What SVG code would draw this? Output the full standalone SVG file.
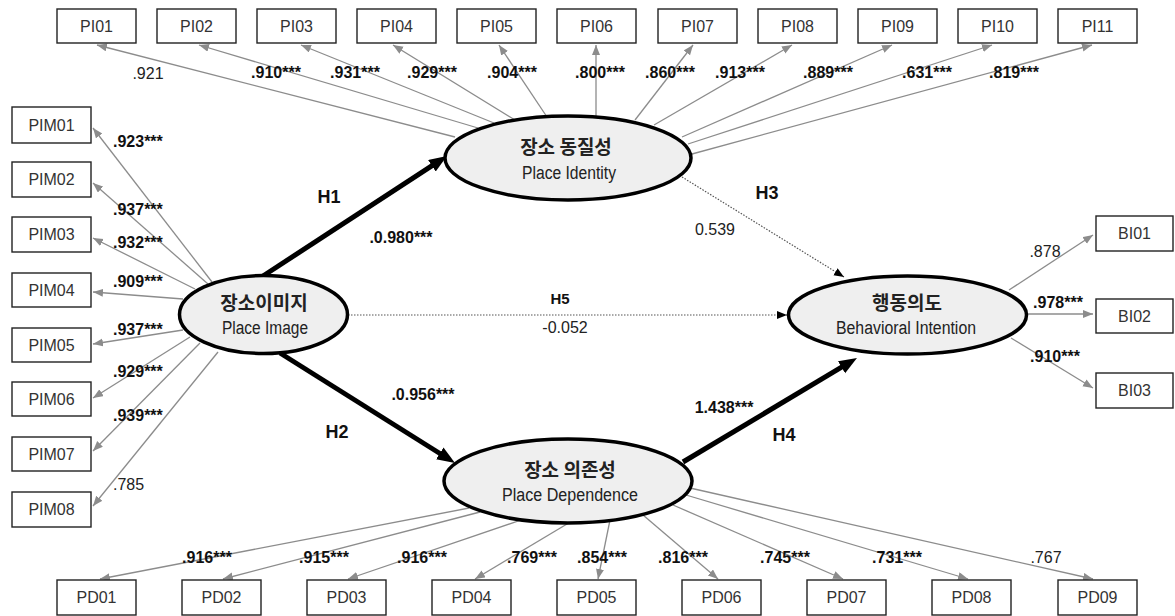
<svg xmlns="http://www.w3.org/2000/svg" width="1175" height="616" viewBox="0 0 1175 616">
<defs>
<style>
.box{fill:#fff;stroke:#222;stroke-width:1.4}
.bt{font-family:"Liberation Sans",Arial,sans-serif;font-size:16px;fill:#333;text-anchor:middle}
.lv{fill:#efefef;stroke:#000;stroke-width:3.5}
.ko{font-family:"Noto Sans CJK KR","Noto Sans",sans-serif;font-size:19px;font-weight:bold;fill:#222;text-anchor:middle}
.en{font-family:"Liberation Sans",Arial,sans-serif;font-size:18px;fill:#222;text-anchor:middle}
.g{stroke:#8c8c8c;stroke-width:1.3;fill:none;marker-end:url(#ga)}
.thick{stroke:#000;stroke-width:5;fill:none;marker-end:url(#ba)}
.dot{stroke:#555;stroke-width:1.2;stroke-dasharray:1.5 1.5;fill:none;marker-end:url(#da)}
.l{font-family:"Liberation Sans",Arial,sans-serif;font-size:16px;fill:#222}
.b{font-weight:bold;fill:#111}
.c{text-anchor:middle}
.h{font-family:"Liberation Sans",Arial,sans-serif;font-size:18px;font-weight:bold;fill:#111;text-anchor:middle}
</style>
<marker id="ga" markerUnits="userSpaceOnUse" markerWidth="11" markerHeight="9" refX="10" refY="4" orient="auto"><path d="M0,0 L10,4 L0,8 z" fill="#8c8c8c"/></marker>
<marker id="ba" markerUnits="userSpaceOnUse" markerWidth="19" markerHeight="15" refX="3" refY="7" orient="auto"><path d="M0,0 L18,7 L0,14 z" fill="#000"/></marker>
<marker id="da" markerUnits="userSpaceOnUse" markerWidth="11" markerHeight="9" refX="10" refY="4" orient="auto"><path d="M0,0 L10,4 L0,8 z" fill="#000"/></marker>
</defs>
<rect width="1175" height="616" fill="#fff"/>

<g id="connectors">
<line class="g" x1="455" y1="137" x2="97" y2="45"/>
<line class="g" x1="478" y1="128" x2="199" y2="45"/>
<line class="g" x1="494" y1="123" x2="301" y2="45"/>
<line class="g" x1="515" y1="120" x2="393" y2="45"/>
<line class="g" x1="547" y1="117" x2="499" y2="45"/>
<line class="g" x1="596" y1="116" x2="596" y2="45"/>
<line class="g" x1="635" y1="120" x2="693" y2="45"/>
<line class="g" x1="654" y1="125" x2="792" y2="45"/>
<line class="g" x1="682" y1="137" x2="892" y2="45"/>
<line class="g" x1="688" y1="144" x2="992" y2="45"/>
<line class="g" x1="692" y1="154" x2="1092" y2="45"/>

<line class="g" x1="212" y1="282" x2="93" y2="128"/>
<line class="g" x1="208" y1="284" x2="93" y2="183"/>
<line class="g" x1="195" y1="289" x2="93" y2="238"/>
<line class="g" x1="183" y1="299" x2="93" y2="292"/>
<line class="g" x1="183" y1="330" x2="93" y2="344"/>
<line class="g" x1="190" y1="337" x2="93" y2="398"/>
<line class="g" x1="200" y1="343" x2="93" y2="451"/>
<line class="g" x1="218" y1="352" x2="93" y2="506"/>

<line class="g" x1="469" y1="508" x2="100" y2="579"/>
<line class="g" x1="480" y1="512" x2="223" y2="579"/>
<line class="g" x1="524" y1="519" x2="348" y2="579"/>
<line class="g" x1="572" y1="521" x2="475" y2="579"/>
<line class="g" x1="610" y1="520" x2="598" y2="579"/>
<line class="g" x1="643" y1="515" x2="718" y2="579"/>
<line class="g" x1="673" y1="505" x2="843" y2="579"/>
<line class="g" x1="686" y1="495" x2="968" y2="579"/>
<line class="g" x1="690" y1="488" x2="1093" y2="579"/>

<line class="g" x1="1009" y1="290" x2="1093" y2="235"/>
<line class="g" x1="1025" y1="314" x2="1093" y2="314"/>
<line class="g" x1="1011" y1="338" x2="1093" y2="388"/>

<line class="thick" x1="263" y1="276" x2="434.4" y2="164.1"/>
<line class="thick" x1="280" y1="353" x2="442.3" y2="455"/>
<line class="thick" x1="683" y1="462" x2="844.1" y2="365.7"/>
<line class="dot" x1="682" y1="177" x2="844" y2="277"/>
<line class="dot" x1="348" y1="315" x2="787" y2="315"/>
</g>

<g id="labels">
<text class="l" x="148" y="79" text-anchor="middle">.921</text>
<text class="l b c" x="276" y="78">.910***</text>
<text class="l b c" x="355" y="78">.931***</text>
<text class="l b c" x="432" y="78">.929***</text>
<text class="l b c" x="512" y="78">.904***</text>
<text class="l b c" x="600" y="78">.800***</text>
<text class="l b c" x="670" y="78">.860***</text>
<text class="l b c" x="740" y="78">.913***</text>
<text class="l b c" x="828" y="78">.889***</text>
<text class="l b c" x="927" y="78">.631***</text>
<text class="l b c" x="1014" y="78">.819***</text>

<text class="l b" x="113" y="147">.923***</text>
<text class="l b" x="113" y="215">.937***</text>
<text class="l b" x="113" y="248">.932***</text>
<text class="l b" x="113" y="287">.909***</text>
<text class="l b" x="113" y="335">.937***</text>
<text class="l b" x="113" y="377">.929***</text>
<text class="l b" x="113" y="421">.939***</text>
<text class="l" x="113" y="490">.785</text>

<text class="l b c" x="207" y="563">.916***</text>
<text class="l b c" x="324" y="563">.915***</text>
<text class="l b c" x="422" y="563">.916***</text>
<text class="l b c" x="532" y="563">.769***</text>
<text class="l b c" x="602" y="563">.854***</text>
<text class="l b c" x="683" y="563">.816***</text>
<text class="l b c" x="785" y="563">.745***</text>
<text class="l b c" x="897" y="563">.731***</text>
<text class="l c" x="1046" y="563">.767</text>

<text class="l c" x="1045" y="257">.878</text>
<text class="l b c" x="1058" y="308">.978***</text>
<text class="l b c" x="1055" y="362">.910***</text>

<text class="h" x="329" y="203">H1</text>
<text class="h" x="337" y="438">H2</text>
<text class="h" x="767" y="199">H3</text>
<text class="h" x="784" y="441">H4</text>
<text class="h" x="560" y="304" style="font-size:15px">H5</text>
<text class="l b c" x="401" y="243">.0.980***</text>
<text class="l b c" x="423" y="400">.0.956***</text>
<text class="l b c" x="724" y="413">1.438***</text>
<text class="l c" x="715" y="235">0.539</text>
<text class="l c" x="565" y="333">-0.052</text>
</g>

<g id="PI01"><rect class="box" x="57" y="9" width="79" height="34"/><text class="bt" x="96.5" y="32">PI01</text></g>
<g id="PI02"><rect class="box" x="157" y="9" width="79" height="34"/><text class="bt" x="196.5" y="32">PI02</text></g>
<g id="PI03"><rect class="box" x="257" y="9" width="79" height="34"/><text class="bt" x="296.5" y="32">PI03</text></g>
<g id="PI04"><rect class="box" x="357" y="9" width="79" height="34"/><text class="bt" x="396.5" y="32">PI04</text></g>
<g id="PI05"><rect class="box" x="457" y="9" width="79" height="34"/><text class="bt" x="496.5" y="32">PI05</text></g>
<g id="PI06"><rect class="box" x="557" y="9" width="79" height="34"/><text class="bt" x="596.5" y="32">PI06</text></g>
<g id="PI07"><rect class="box" x="658" y="9" width="79" height="34"/><text class="bt" x="697.5" y="32">PI07</text></g>
<g id="PI08"><rect class="box" x="758" y="9" width="79" height="34"/><text class="bt" x="797.5" y="32">PI08</text></g>
<g id="PI09"><rect class="box" x="858" y="9" width="79" height="34"/><text class="bt" x="897.5" y="32">PI09</text></g>
<g id="PI10"><rect class="box" x="958" y="9" width="79" height="34"/><text class="bt" x="997.5" y="32">PI10</text></g>
<g id="PI11"><rect class="box" x="1058" y="9" width="79" height="34"/><text class="bt" x="1097.5" y="32">PI11</text></g>

<g id="PIM01"><rect class="box" x="12" y="107" width="79" height="36"/><text class="bt" x="51.5" y="131">PIM01</text></g>
<g id="PIM02"><rect class="box" x="12" y="162" width="79" height="35"/><text class="bt" x="51.5" y="185">PIM02</text></g>
<g id="PIM03"><rect class="box" x="12" y="217" width="79" height="35"/><text class="bt" x="51.5" y="240">PIM03</text></g>
<g id="PIM04"><rect class="box" x="12" y="273" width="79" height="34"/><text class="bt" x="51.5" y="296">PIM04</text></g>
<g id="PIM05"><rect class="box" x="12" y="328" width="79" height="34"/><text class="bt" x="51.5" y="351">PIM05</text></g>
<g id="PIM06"><rect class="box" x="12" y="382" width="79" height="34"/><text class="bt" x="51.5" y="405">PIM06</text></g>
<g id="PIM07"><rect class="box" x="12" y="437" width="79" height="34"/><text class="bt" x="51.5" y="460">PIM07</text></g>
<g id="PIM08"><rect class="box" x="12" y="492" width="79" height="35"/><text class="bt" x="51.5" y="515">PIM08</text></g>

<g id="PD01"><rect class="box" x="57" y="580" width="79" height="35"/><text class="bt" x="96.5" y="603">PD01</text></g>
<g id="PD02"><rect class="box" x="182" y="580" width="79" height="35"/><text class="bt" x="221.5" y="603">PD02</text></g>
<g id="PD03"><rect class="box" x="307" y="580" width="79" height="35"/><text class="bt" x="346.5" y="603">PD03</text></g>
<g id="PD04"><rect class="box" x="432" y="580" width="79" height="35"/><text class="bt" x="471.5" y="603">PD04</text></g>
<g id="PD05"><rect class="box" x="557" y="580" width="79" height="35"/><text class="bt" x="596.5" y="603">PD05</text></g>
<g id="PD06"><rect class="box" x="682" y="580" width="79" height="35"/><text class="bt" x="721.5" y="603">PD06</text></g>
<g id="PD07"><rect class="box" x="807" y="580" width="79" height="35"/><text class="bt" x="846.5" y="603">PD07</text></g>
<g id="PD08"><rect class="box" x="932" y="580" width="79" height="35"/><text class="bt" x="971.5" y="603">PD08</text></g>
<g id="PD09"><rect class="box" x="1058" y="580" width="79" height="35"/><text class="bt" x="1097.5" y="603">PD09</text></g>

<g id="BI01"><rect class="box" x="1096" y="216" width="77" height="35"/><text class="bt" x="1134.5" y="239">BI01</text></g>
<g id="BI02"><rect class="box" x="1096" y="299" width="77" height="34"/><text class="bt" x="1134.5" y="322">BI02</text></g>
<g id="BI03"><rect class="box" x="1096" y="373" width="77" height="35"/><text class="bt" x="1134.5" y="396">BI03</text></g>

<g id="PlaceImage"><ellipse class="lv" cx="263.5" cy="314.5" rx="84" ry="39"/><text class="ko" x="264" y="310">장소이미지</text><text class="en" x="265" y="334" textLength="86" lengthAdjust="spacingAndGlyphs">Place Image</text></g>
<g id="PlaceIdentity"><ellipse class="lv" cx="568" cy="158" rx="123" ry="42"/><text class="ko" x="566" y="154">장소 동질성</text><text class="en" x="569" y="179" textLength="94" lengthAdjust="spacingAndGlyphs">Place Identity</text></g>
<g id="PlaceDependence"><ellipse class="lv" cx="568" cy="481" rx="124" ry="42"/><text class="ko" x="570" y="477">장소 의존성</text><text class="en" x="570" y="501" textLength="136" lengthAdjust="spacingAndGlyphs">Place Dependence</text></g>
<g id="BehavioralIntention"><ellipse class="lv" cx="907.5" cy="315" rx="119" ry="39"/><text class="ko" x="907" y="310">행동의도</text><text class="en" x="906" y="334" textLength="140" lengthAdjust="spacingAndGlyphs">Behavioral Intention</text></g>
</svg>
